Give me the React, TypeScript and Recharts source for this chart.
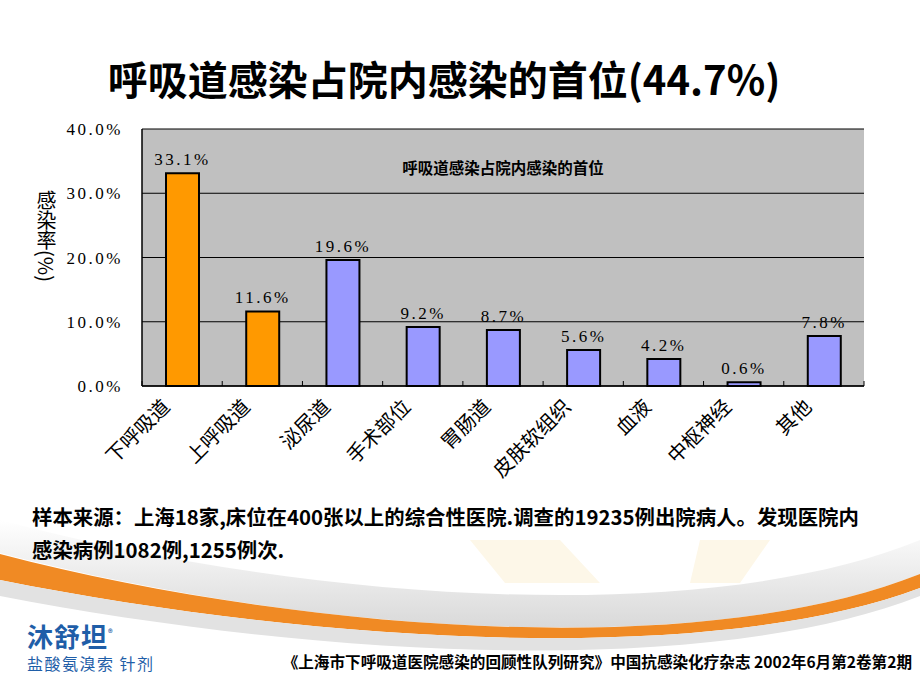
import React from 'react'
import { BarChart, Bar, Cell, XAxis, YAxis, CartesianGrid, LabelList } from 'recharts'

// 各部位医院感染率 (%)
const categories = ['下呼吸道', '上呼吸道', '泌尿道', '手术部位', '胃肠道', '皮肤软组织', '血液', '中枢神经', '其他']
const rates = [33.1, 11.6, 19.6, 9.2, 8.7, 5.6, 4.2, 0.6, 7.8]
const respiratory = ['下呼吸道', '上呼吸道']
const yTicks = [0, 10, 20, 30, 40]

const data = categories.map((name, i) => ({ name, rate: rates[i] }))

const W = 920
const H = 690
const PLOT_LEFT = 142
const PLOT_RIGHT = 864
const PLOT_TOP = 129
const PLOT_BOTTOM = 386
const Y_AXIS_W = 80
const X_AXIS_H = 100
const BAND = (PLOT_RIGHT - PLOT_LEFT) / categories.length

const serif = '"Liberation Serif", "DejaVu Serif", serif'
const cjk = '"Noto Sans CJK SC", "Noto Sans", sans-serif'

function CategoryTick({ x, y, payload, index }: any) {
  const left = x - BAND / 2
  const ax = x - 11
  const ay = y + 22
  return (
    <g>
      <line x1={left} y1={y} x2={left} y2={y - 5} stroke="#000" strokeWidth={1} />
      {index === categories.length - 1 && (
        <line x1={x + BAND / 2} y1={y} x2={x + BAND / 2} y2={y - 5} stroke="#000" strokeWidth={1} />
      )}
      <text
        x={ax}
        y={ay}
        transform={`rotate(-45 ${ax} ${ay})`}
        textAnchor="end"
        fontSize={20}
        fontFamily={cjk}
        fill="#000"
      >
        {payload.value}
      </text>
    </g>
  )
}

function Decoration() {
  return (
    <svg width={W} height={H} style={{ position: 'absolute', left: 0, top: 0 }}>
      <defs>
        <linearGradient id="shade" x1="0" y1="0" x2="0" y2="1">
          <stop offset="0" stopColor="#ffffff" />
          <stop offset="1" stopColor="#d9d9d9" />
        </linearGradient>
      </defs>
      <path d="M470,540 L560,540 L600,583 L505,583 Z" fill="#fdf7e8" />
      <path d="M700,540 L770,540 L740,583 L690,583 Z" fill="#fdf7e8" />
      <path d="M0,520 C300,600 700,630 920,540 L920,574 C700,662 300,632 0,553 Z" fill="url(#shade)" />
      <path d="M0,554 C300,632 700,662 920,574 L920,588 C700,670 300,640 0,580 Z" fill="#f08a24" />
      <path d="M0,580 C300,640 700,670 920,588 L920,596 C700,682 300,654 0,596 Z" fill="#e2e2e2" />
    </svg>
  )
}

export default function App() {
  return (
    <div
      style={{
        position: 'absolute',
        left: 0,
        top: 0,
        width: W,
        height: H,
        background: '#fff',
        overflow: 'hidden',
        fontFamily: cjk,
      }}
    >
      <Decoration />

      <div
        style={{
          position: 'absolute',
          top: 52,
          left: 0,
          width: 888,
          textAlign: 'center',
          fontSize: 40,
          fontWeight: 700,
          color: '#000',
          lineHeight: '52px',
          whiteSpace: 'nowrap',
        }}
      >
        呼吸道感染占院内感染的首位(44.7%)
      </div>

      <div style={{ position: 'absolute', left: 0, top: 0 }}>
        <BarChart
          width={W}
          height={H}
          data={data}
          margin={{
            top: PLOT_TOP,
            right: W - PLOT_RIGHT,
            bottom: H - PLOT_BOTTOM - X_AXIS_H,
            left: PLOT_LEFT - Y_AXIS_W,
          }}
        >
          <CartesianGrid vertical={false} stroke="#000" fill="#C0C0C0" fillOpacity={1} />
          <XAxis
            dataKey="name"
            height={X_AXIS_H}
            interval={0}
            tickLine={false}
            tickSize={0}
            tickMargin={0}
            axisLine={{ stroke: '#000', strokeWidth: 1.5 }}
            tick={<CategoryTick />}
          />
          <YAxis
            width={Y_AXIS_W}
            domain={[0, 40]}
            ticks={yTicks}
            interval={0}
            tickLine={false}
            tickSize={6}
            tickMargin={13}
            axisLine={{ stroke: '#000', strokeWidth: 1.5 }}
            tickFormatter={(v: number) => `${v.toFixed(1)}%`}
            tick={{ fontSize: 17, fontFamily: serif, fill: '#000', letterSpacing: 2.5 }}
          />
          <YAxis
            yAxisId="frame"
            orientation="right"
            width={0}
            domain={[0, 40]}
            tick={false}
            tickLine={false}
            axisLine={{ stroke: '#808080', strokeWidth: 1.5 }}
          />
          <Bar dataKey="rate" barSize={33} stroke="#000" strokeWidth={2} isAnimationActive={false}>
            {data.map((d) => (
              <Cell key={d.name} fill={respiratory.includes(d.name) ? '#FF9900' : '#9999FF'} />
            ))}
            <LabelList
              dataKey="rate"
              position="top"
              offset={8}
              formatter={(v: any) => `${Number(v).toFixed(1)}%`}
              style={{ fontSize: 17, fontFamily: serif, fill: '#000', letterSpacing: 2.5 }}
            />
          </Bar>
        </BarChart>
      </div>

      <div
        style={{
          position: 'absolute',
          top: 156,
          left: 393,
          width: 220,
          textAlign: 'center',
          fontSize: 15.5,
          fontWeight: 700,
          color: '#000',
          whiteSpace: 'nowrap',
        }}
      >
        呼吸道感染占院内感染的首位
      </div>

      <div
        style={{
          position: 'absolute',
          top: 190,
          left: 34,
          writingMode: 'vertical-rl',
          fontSize: 20,
          lineHeight: '24px',
          color: '#000',
        }}
      >
        感染率(%)
      </div>

      <div
        style={{
          position: 'absolute',
          top: 500,
          left: 32,
          fontSize: 20.4,
          fontWeight: 700,
          lineHeight: '33px',
          color: '#000',
          whiteSpace: 'nowrap',
        }}
      >
        <div>样本来源：上海18家,床位在400张以上的综合性医院.调查的19235例出院病人。发现医院内</div>
        <div>感染病例1082例,1255例次.</div>
      </div>

      <div style={{ position: 'absolute', top: 618, left: 27, color: '#1f5ea8', fontWeight: 700 }}>
        <div style={{ fontSize: 26, lineHeight: '32px', letterSpacing: 1 }}>
          沐舒坦<sup style={{ fontSize: 9 }}>®</sup>
        </div>
        <div style={{ fontSize: 16, lineHeight: '22px', fontWeight: 400, letterSpacing: 1.5 }}>盐酸氨溴索 针剂</div>
      </div>

      <div
        style={{
          position: 'absolute',
          top: 650,
          right: 8,
          fontSize: 15.6,
          fontWeight: 700,
          color: '#000',
          whiteSpace: 'nowrap',
          lineHeight: '22px',
        }}
      >
        《上海市下呼吸道医院感染的回顾性队列研究》中国抗感染化疗杂志 2002年6月第2卷第2期
      </div>
    </div>
  )
}
